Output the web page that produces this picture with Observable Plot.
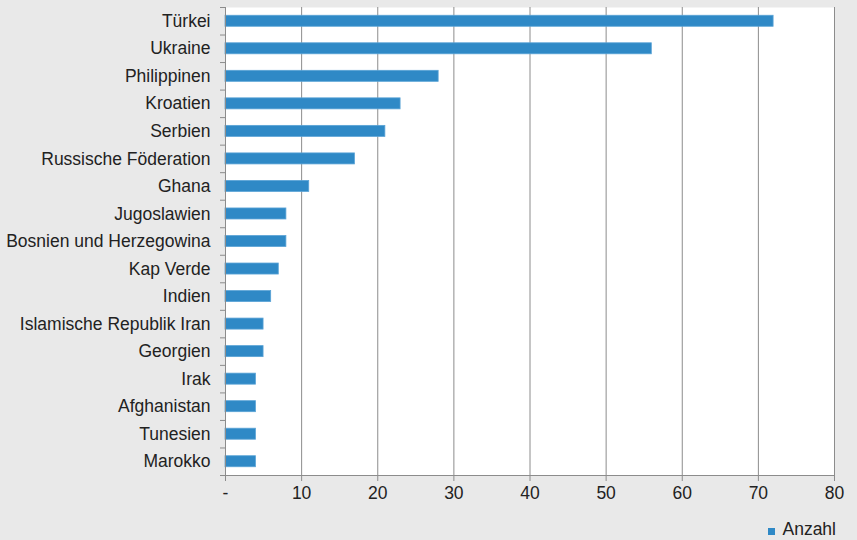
<!DOCTYPE html>
<html>
<head>
<meta charset="utf-8">
<script src="https://cdn.jsdelivr.net/npm/d3@7"></script>
<script src="https://cdn.jsdelivr.net/npm/@observablehq/plot@0.6"></script>
<style>
  html, body { margin: 0; padding: 0; background: #e9e9e9; }
  #wrap { width: 857px; height: 540px; position: relative; font-family: "Liberation Sans", Arial, sans-serif; }
  #chart svg { display: block; }
  #legend { position: absolute; right: 21px; top: 519px; font-size: 17.5px; color: #222; display: flex; align-items: center; }
  #legend span.sw { display: inline-block; width: 7px; height: 7px; background: #2f89c6; margin-right: 7px; margin-top: 3px; }
</style>
</head>
<body>
<div id="wrap"><div id="chart"></div><div id="legend"><span class="sw"></span><span>Anzahl</span></div></div>
<script>
const countries = ["Türkei","Ukraine","Philippinen","Kroatien","Serbien","Russische Föderation","Ghana","Jugoslawien","Bosnien und Herzegowina","Kap Verde","Indien","Islamische Republik Iran","Georgien","Irak","Afghanistan","Tunesien","Marokko"];
const values = [72,56,28,23,21,17,11,8,8,7,6,5,5,4,4,4,4];
const xTicks = [0,10,20,30,40,50,60,70,80];
const seriesName = "Anzahl";

const data = countries.map((c, i) => ({country: c, value: values[i]}));
const W = 857, H = 512, mT = 7, mB = 37, mL = 225, mR = 23;
const step = (H - mT - mB) / countries.length;
const blue = "#2f89c6";
const axisGray = "#8c8c8c";

const chart = Plot.plot({
  width: W, height: H,
  marginTop: mT, marginBottom: mB, marginLeft: mL, marginRight: mR,
  style: {fontFamily: "'Liberation Sans', Arial, sans-serif", fontSize: "17.5px", color: "#222", background: "transparent"},
  x: {domain: [0, 80], ticks: xTicks, tickFormat: d => d === 0 ? "-" : d, label: null},
  y: {domain: countries, paddingInner: 0.6, paddingOuter: 0.3, round: false, label: null},
  marks: [
    Plot.frame({fill: "white", stroke: null}),
    Plot.gridX(xTicks.filter(d => d > 0), {stroke: axisGray, strokeOpacity: 1}),
    Plot.barX(data, {x: "value", y: "country", fill: blue, stroke: "#5aa3d6", strokeWidth: 0.8}),
    Plot.frame({anchor: "bottom", stroke: axisGray}),
    Plot.axisX({ticks: xTicks, tickFormat: d => d === 0 ? "-" : d, tickSize: 6, tickPadding: 5, stroke: axisGray, fill: "#222", fontSize: 17.5, label: null}),
    Plot.axisY({tickSize: 0, tickPadding: 15, label: null, fill: "#222", fontSize: 17.5}),
    Plot.axisY({text: null, tickSize: 5, stroke: axisGray, dy: -step / 2, label: null}),
    Plot.axisY([countries[countries.length - 1]], {text: null, tickSize: 5, stroke: axisGray, dy: step / 2, label: null}),
    Plot.ruleX([0], {stroke: axisGray})
  ]
});
document.getElementById("chart").appendChild(chart);
document.querySelector("#legend span:last-child").textContent = seriesName;
</script>
</body>
</html>
